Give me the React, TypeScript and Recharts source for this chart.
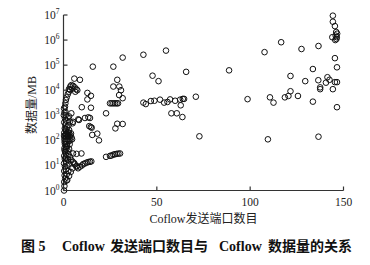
import { ScatterChart, Scatter, XAxis, YAxis } from "recharts";

// [发送端口数目, 数据量 MB]
const nearAxis: [number, number][] = [
  [0.3, 1.0], [0.5, 1.5], [0.4, 2.2], [0.9, 3], [1.6, 2.5], [0.6, 4], [1.8, 4.5],
  [0.4, 6], [1.2, 7], [2.6, 6], [0.8, 9], [2.0, 10], [0.3, 12], [1.4, 14],
  [3.0, 12], [0.7, 18], [2.4, 17], [0.4, 24], [1.5, 26], [3.5, 22], [0.9, 34],
  [2.2, 38], [0.5, 48], [1.6, 55], [3.0, 45], [0.8, 70], [2.0, 75], [1.2, 90],
  [2.8, 95], [3.6, 100], [4.3, 130], [3.8, 160], [4.0, 190], [2.6, 210],
  [0.5, 110], [1.5, 130], [0.9, 160], [2.1, 150], [0.4, 200], [1.3, 230],
  [3.0, 260], [0.7, 300], [2.0, 330], [1.0, 420], [2.7, 400], [0.4, 520],
  [1.6, 600], [3.4, 560], [0.8, 750], [2.2, 800], [1.2, 1000], [3.0, 900],
  [0.5, 1300], [0.2, 1000], [1.0, 1400], [4.2, 1200], [8.3, 650], [5.1, 550],
  [1.1, 20], [2.7, 28], [0.6, 40], [1.9, 60], [3.3, 70], [0.9, 120],
  [2.4, 115], [3.2, 140], [1.7, 180], [0.3, 150], [2.9, 190], [1.1, 280],
  [4.6, 110], [2.5, 160], [0.6, 85], [1.4, 45],
];

const neck: [number, number][] = [
  [4.2, 16000], [5.1, 15000], [3.6, 14000], [6.0, 13000], [4.7, 11500],
  [6.9, 11000], [2.9, 11000], [7.4, 10000], [3.5, 10500], [6.3, 8700],
  [2.9, 8700], [2.3, 6900], [1.7, 5200], [1.3, 4100], [1.0, 3000], [0.8, 2200],
  [0.3, 1900],
];

const fan: [number, number][] = [
  [4.2, 16.5], [5.1, 13.7], [6.0, 11], [6.9, 8.9], [7.8, 7.7], [8.8, 8.9],
  [9.9, 10], [5.8, 12.3], [7.1, 9.5], [2.0, 2.6], [3.0, 3.8], [3.9, 5.5],
  [4.8, 7.6], [10.6, 11.4], [11.5, 12], [12.4, 13], [13.3, 13.7], [14.2, 14],
  [14.9, 14.5], [5.1, 30], [7.0, 29], [9.6, 30], [22.8, 22], [24.9, 24],
  [25.8, 25], [26.7, 27], [27.6, 28], [28.5, 29], [29.4, 29.5], [30.3, 30],
];

const middle: [number, number][] = [
  [15.7, 87000], [31.7, 200000], [42.8, 260000], [54.9, 380000], [26.7, 87000],
  [5.8, 29000], [8.8, 26000], [47.7, 38000], [50.9, 23000], [65.7, 54000],
  [28.8, 26000], [26.7, 14000], [29.9, 14000], [30.8, 10000], [29.8, 6400],
  [31.7, 4800], [12.8, 7800], [14.7, 6000], [12.8, 4300], [9.8, 2100],
  [14.7, 2000], [22.8, 1200], [24.9, 3000], [25.8, 3000], [26.7, 3000],
  [27.6, 3000], [28.5, 3000], [29.2, 3000], [11.5, 780], [13.3, 830],
  [14.2, 780], [7.9, 690], [4.9, 480], [13.8, 370], [14.6, 340], [15.1, 320],
  [15.4, 165], [18.1, 185], [19.0, 100], [28.8, 460], [31.7, 450], [27.8, 300],
  [42.8, 3200], [44.1, 2800], [46.8, 3700], [48.7, 3800], [51.7, 4200],
  [53.9, 3200], [55.7, 3400], [57.1, 4300], [59.8, 3800], [62.5, 4200],
  [63.9, 4500], [64.6, 4500], [62.8, 2500], [70.9, 5500], [57.8, 1200],
  [60.7, 1200], [63.7, 850], [72.8, 145],
];

const farRight: [number, number][] = [
  [144.3, 9.4e6], [144.3, 5.4e6], [145.4, 3.6e6], [146.1, 2.1e6], [146.6, 1.8e6],
  [145.8, 1.5e6], [146.4, 1.3e6], [144.0, 1.3e6], [146.2, 1.1e6], [145.6, 1.0e6],
  [116.6, 820000], [107.7, 330000], [127.5, 440000], [136.6, 580000],
  [145.4, 190000], [146.5, 82000], [88.7, 62000], [133.6, 70000], [121.6, 37000],
  [129.5, 23000], [136.5, 25000], [141.4, 33000], [142.5, 26000], [140.6, 20000],
  [145.4, 21000], [146.5, 21000], [137.5, 13000], [137.5, 11000], [144.3, 11000],
  [121.6, 9100], [120.5, 5900], [118.6, 5200], [125.6, 5900], [110.6, 5200],
  [98.6, 4400], [112.5, 3200], [133.6, 3500], [146.5, 2100], [109.5, 110],
  [136.6, 140],
];

const xTicks = [0, 50, 100, 150];
const yTicks = [1, 10, 100, 1000, 1e4, 1e5, 1e6, 1e7];

const points = [...nearAxis, ...neck, ...fan, ...middle, ...farRight].map(
  ([ports, mb]) => ({ ports, mb })
);

const serif = "'Liberation Serif', 'Times New Roman', 'Noto Sans CJK SC', serif";
const axisColor = "#333";

const XTick = ({ x, y, payload }: any) => (
  <g>
    <line x1={x} y1={y} x2={x} y2={y - 4} stroke={axisColor} strokeWidth={1.2} />
    <text x={x} y={y + 15} textAnchor="middle" fontSize={11.5} fontFamily={serif} fill="#222">
      {payload.value}
    </text>
  </g>
);

const YTick = ({ x, y, payload }: any) => {
  const exp = Math.round(Math.log10(payload.value));
  return (
    <g>
      <line x1={x} y1={y} x2={x + 4} y2={y} stroke={axisColor} strokeWidth={1.2} />
      <text x={x - 4} y={y + 4} textAnchor="end" fontSize={11.5} fontFamily={serif} fill="#222">
        10
        <tspan dy={-5} fontSize={7.5}>{exp}</tspan>
      </text>
    </g>
  );
};

const Ring = (props: any) => (
  <circle cx={props.cx} cy={props.cy} r={2.8} fill="none" stroke="#111" strokeWidth={1} />
);

export default function App() {
  return (
    <div style={{ position: "absolute", left: 0, top: 0, width: 370, height: 265, background: "#fff" }}>
      <ScatterChart
        width={370}
        height={230}
        margin={{ top: 15, right: 26.5, left: 0, bottom: 9.5 }}
      >
        <XAxis
          type="number"
          dataKey="ports"
          domain={[0, 150]}
          ticks={xTicks}
          height={30}
          tickSize={0}
          tickMargin={0}
          tickLine={false}
          tick={<XTick />}
          stroke={axisColor}
          strokeWidth={1.2}
        />
        <YAxis
          type="number"
          dataKey="mb"
          scale="log"
          domain={[1, 1e7]}
          ticks={yTicks}
          width={63.5}
          tickSize={0}
          tickMargin={0}
          tickLine={false}
          tick={<YTick />}
          stroke={axisColor}
          strokeWidth={1.2}
        />
        <Scatter data={points} shape={<Ring />} isAnimationActive={false} />
      </ScatterChart>
      <div
        style={{
          position: "absolute",
          left: 32,
          top: 105,
          transform: "translate(-50%, -50%) rotate(-90deg)",
          fontFamily: serif,
          fontSize: 12,
          lineHeight: "12px",
          whiteSpace: "nowrap",
          color: "#222",
        }}
      >
        数据量/MB
      </div>
      <div
        style={{
          position: "absolute",
          left: 203.5,
          top: 212.5,
          transform: "translateX(-50%)",
          fontFamily: serif,
          fontSize: 12,
          lineHeight: "12px",
          whiteSpace: "nowrap",
          color: "#222",
        }}
      >
        Coflow发送端口数目
      </div>
      <div
        style={{
          position: "absolute",
          left: 0,
          top: 239.5,
          width: 370,
          height: 14,
          fontFamily: serif,
          fontWeight: "bold",
          fontSize: 14,
          lineHeight: "14px",
          whiteSpace: "nowrap",
          color: "#111",
        }}
      >
        <span style={{ position: "absolute", left: 21 }}>图 5</span>
        <span style={{ position: "absolute", left: 62 }}>Coflow</span>
        <span style={{ position: "absolute", left: 110 }}>发送端口数目与</span>
        <span style={{ position: "absolute", left: 219 }}>Coflow</span>
        <span style={{ position: "absolute", left: 268 }}>数据量的关系</span>
      </div>
    </div>
  );
}
